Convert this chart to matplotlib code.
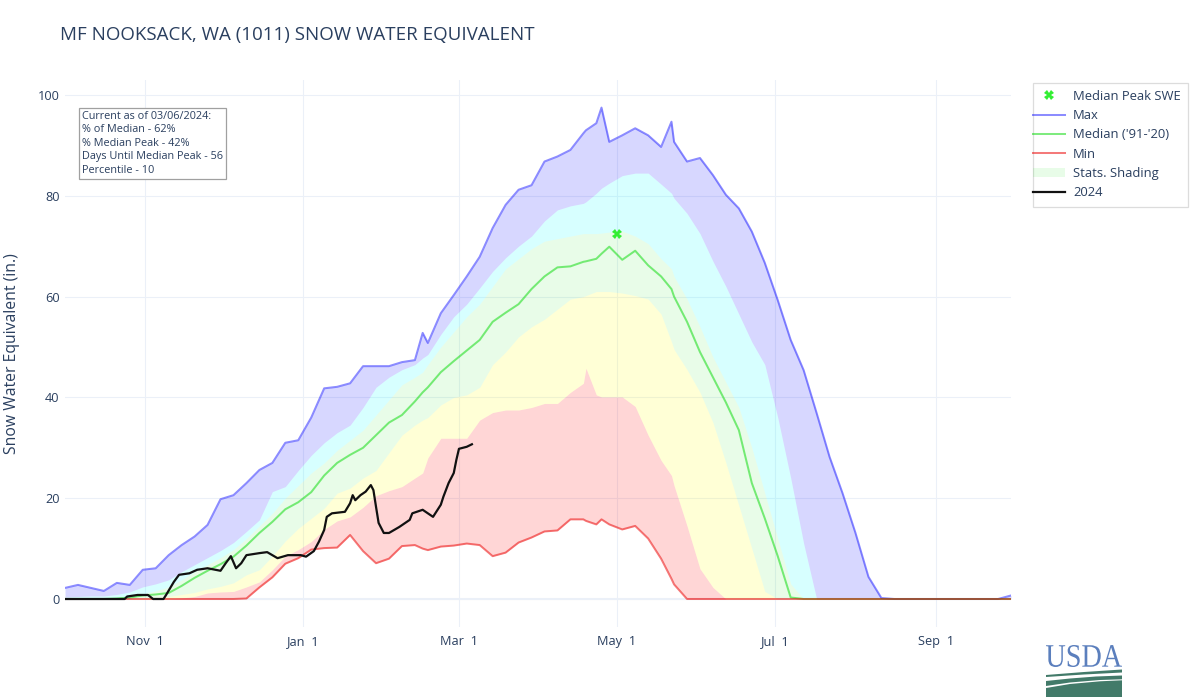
import numpy as np
import matplotlib
matplotlib.use('Agg')
import matplotlib.pyplot as plt
from matplotlib.lines import Line2D
from matplotlib.patches import Patch, Polygon, PathPatch, Rectangle
from matplotlib.textpath import TextPath
from matplotlib.font_manager import FontProperties
from matplotlib.transforms import Affine2D

plt.rcParams['font.family'] = ['Open Sans', 'DejaVu Sans']

# ---------------- data ----------------
START = np.datetime64('2023-10-01')

stat_days = [0, 5, 10, 15, 20, 25, 30, 35, 40, 45, 50, 55, 60, 65, 70, 75, 80, 85, 90, 95,
             100, 105, 110, 115, 120, 125, 130, 135, 138, 140, 145, 150, 155, 160, 165, 170,
             175, 180, 185, 190, 195, 200, 201, 205, 207, 210, 215, 220, 225, 230, 234, 235,
             240, 245, 250, 255, 260, 265, 270, 275, 280, 285, 290, 295, 300, 305, 310, 315,
             320, 325, 330, 335, 340, 345, 350, 355, 360, 365]

swe_max = [2.2, 2.8, 2.2, 1.6, 3.2, 2.8, 5.8, 6.1, 8.7, 10.7, 12.4, 14.7, 19.8, 20.6, 23.0, 25.6,
           27.0, 31.0, 31.5, 36.0, 41.8, 42.1, 42.8, 46.2, 46.2, 46.2, 47.0, 47.4, 52.8, 50.8,
           56.7, 60.3, 64.0, 67.9, 73.6, 78.2, 81.2, 82.1, 86.8, 87.8, 89.1, 92.4, 93.0, 94.4,
           97.5, 90.7, 92.0, 93.4, 92.0, 89.7, 94.7, 90.7, 86.8, 87.5, 84.1, 80.2, 77.5, 72.9,
           66.7, 59.3, 51.4, 45.4, 36.9, 28.2, 21.0, 13.1, 4.4, 0.2, 0.0, 0.0, 0.0, 0.0, 0.0,
           0.0, 0.0, 0.0, 0.0, 0.7]

swe_p90 = [0.4, 0.5, 0.6, 0.6, 0.9, 1.4, 2.4, 3.0, 3.8, 5.4, 6.8, 8.2, 9.6, 11.2, 13.4, 15.7,
           21.3, 22.3, 25.5, 28.5, 31.0, 33.0, 34.5, 38.0, 42.0, 44.0, 45.5, 46.5, 47.8, 48.5,
           52.5, 56.0, 58.5, 61.7, 65.0, 67.7, 70.0, 72.0, 75.0, 77.2, 78.0, 78.5, 78.8, 80.5,
           81.5, 82.5, 84.0, 84.5, 84.5, 82.3, 80.5, 79.5, 76.5, 72.5, 67.0, 62.0, 56.5, 51.0,
           46.5, 36.0, 24.0, 11.0, 0.0, 0.0, 0.0, 0.0, 0.0, 0.0, 0.0, 0.0, 0.0, 0.0, 0.0,
           0.0, 0.0, 0.0, 0.0, 0.0]

swe_p70 = [0.1, 0.1, 0.2, 0.2, 0.3, 0.5, 1.0, 1.6, 2.4, 3.8, 5.4, 6.8, 8.2, 9.8, 12.0, 14.5,
           17.0, 20.0, 22.5, 25.0, 27.0, 29.5, 31.5, 33.5, 36.5, 39.5, 42.5, 44.0, 45.0, 46.5,
           50.0, 53.0, 56.0, 58.5, 62.0, 65.5, 67.5, 69.5, 71.0, 71.5, 72.0, 72.5, 72.5, 72.5,
           72.6, 72.8, 73.0, 72.0, 70.5, 67.5, 65.5, 64.0, 59.5, 54.0, 48.0, 43.0, 38.0, 30.0,
           21.0, 12.0, 3.0, 0.0, 0.0, 0.0, 0.0, 0.0, 0.0, 0.0, 0.0, 0.0, 0.0, 0.0, 0.0,
           0.0, 0.0, 0.0, 0.0, 0.0]

swe_median = [0.0, 0.0, 0.0, 0.0, 0.1, 0.3, 0.7, 0.9, 1.2, 2.6, 4.2, 5.6, 6.9, 8.4, 10.6, 13.1,
              15.3, 17.8, 19.2, 21.2, 24.5, 27.0, 28.6, 30.0, 32.5, 35.0, 36.5, 39.2, 41.0, 42.0,
              45.0, 47.2, 49.3, 51.4, 55.0, 56.8, 58.5, 61.5, 64.0, 65.8, 66.0, 66.9, 67.0, 67.5,
              68.5, 69.9, 67.3, 69.1, 66.2, 64.0, 61.5, 60.0, 55.0, 49.0, 44.0, 39.0, 33.5, 23.0,
              16.0, 8.5, 0.3, 0.0, 0.0, 0.0, 0.0, 0.0, 0.0, 0.0, 0.0, 0.0, 0.0, 0.0, 0.0,
              0.0, 0.0, 0.0, 0.0, 0.0]

swe_p30 = [0.0, 0.0, 0.0, 0.0, 0.0, 0.0, 0.2, 0.3, 0.5, 0.9, 1.3, 2.0, 2.5, 3.2, 4.8, 5.8,
           8.5, 11.5, 14.0, 16.0, 18.0, 21.0, 22.0, 24.0, 25.5, 29.0, 32.5, 34.5, 35.5, 36.0,
           38.5, 40.0, 40.5, 42.0, 46.5, 49.0, 52.0, 54.0, 55.5, 57.5, 59.5, 60.0, 60.2, 61.0,
           61.0, 61.0, 60.7, 60.2, 59.5, 56.5, 51.0, 49.5, 45.5, 41.0, 35.0, 27.0, 18.5, 10.0,
           1.5, 0.0, 0.0, 0.0, 0.0, 0.0, 0.0, 0.0, 0.0, 0.0, 0.0, 0.0, 0.0, 0.0, 0.0,
           0.0, 0.0, 0.0, 0.0, 0.0]

swe_p10 = [0.0, 0.0, 0.0, 0.0, 0.0, 0.0, 0.0, 0.0, 0.0, 0.2, 0.5, 1.2, 1.4, 1.5, 2.4, 3.4,
           5.8, 8.5, 9.8, 11.4, 13.8, 15.5, 16.3, 18.2, 20.5, 21.5, 22.3, 24.0, 25.0, 28.0,
           31.9, 31.9, 31.9, 35.5, 37.0, 37.5, 37.5, 38.0, 38.8, 38.8, 41.0, 42.8, 45.8, 40.5,
           40.1, 40.1, 40.1, 38.2, 32.5, 27.5, 24.5, 22.5, 14.5, 6.0, 2.3, 0.0, 0.0, 0.0,
           0.0, 0.0, 0.0, 0.0, 0.0, 0.0, 0.0, 0.0, 0.0, 0.0, 0.0, 0.0, 0.0, 0.0, 0.0,
           0.0, 0.0, 0.0, 0.0, 0.0]

swe_min = [0.0, 0.0, 0.0, 0.0, 0.0, 0.0, 0.0, 0.0, 0.0, 0.0, 0.0, 0.0, 0.0, 0.0, 0.1, 2.3,
           4.3, 7.0, 8.1, 9.8, 10.1, 10.2, 12.7, 9.5, 7.1, 8.0, 10.5, 10.7, 10.0, 9.7,
           10.4, 10.6, 11.0, 10.7, 8.5, 9.2, 11.2, 12.2, 13.4, 13.6, 15.8, 15.8, 15.5, 14.8,
           15.8, 14.8, 13.8, 14.5, 12.0, 8.0, 4.0, 2.9, 0.0, 0.0, 0.0, 0.0, 0.0, 0.0,
           0.0, 0.0, 0.0, 0.0, 0.0, 0.0, 0.0, 0.0, 0.0, 0.0, 0.0, 0.0, 0.0, 0.0, 0.0,
           0.0, 0.0, 0.0, 0.0, 0.0]

wy2024_days = [0, 23, 24, 28, 32, 34, 38, 39, 42, 44, 48, 51, 55, 60, 62, 64, 66, 68, 70, 75,
               78, 82, 86, 91, 93, 96, 98, 100, 101, 103, 108, 110, 111, 112, 114, 116, 118,
               119, 120, 121, 123, 125, 129, 133, 134, 138, 140, 142, 145, 146, 148, 150, 151,
               152, 155, 157]
wy2024_swe = [0.0, 0.0, 0.5, 0.8, 0.8, 0.0, 0.0, 0.8, 3.4, 4.8, 5.1, 5.8, 6.1, 5.6, 7.1, 8.5,
              6.1, 7.1, 8.7, 9.1, 9.3, 8.1, 8.7, 8.7, 8.4, 9.5, 11.4, 13.7, 16.3, 17.0, 17.3,
              19.0, 20.6, 19.6, 20.6, 21.3, 22.6, 21.6, 18.3, 15.1, 13.1, 13.1, 14.3, 15.7,
              17.0, 17.7, 17.0, 16.3, 18.7, 20.3, 23.0, 25.0, 27.6, 29.8, 30.2, 30.7]

median_peak_day = 213          # May 1
median_peak_swe = 72.4

title = "MF NOOKSACK, WA (1011) SNOW WATER EQUIVALENT"
info_lines = ["Current as of 03/06/2024:", "% of Median - 62%", "% Median Peak - 42%",
              "Days Until Median Peak - 56", "Percentile - 10"]
tick_dates = ['2023-11-01', '2024-01-01', '2024-03-01', '2024-05-01', '2024-07-01', '2024-09-01']
tick_labels = ['Nov  1', 'Jan  1', 'Mar  1', 'May  1', 'Jul  1', 'Sep  1']
y_ticks = [0, 20, 40, 60, 80, 100]
legend_labels = ['Median Peak SWE', 'Max', "Median ('91-'20)", 'Min', 'Stats. Shading', '2024']

# ---------------- figure ----------------
FONT_C = '#2a3f5f'
GRID_C = '#ebf0f8'
W, H = 1200, 700
fig = plt.figure(figsize=(W / 100, H / 100), dpi=100)

L, T, R, B = 65, 80, 1011, 627
ax = fig.add_axes([L / W, 1 - B / H, (R - L) / W, (B - T) / H])

x_stat = START + np.array(stat_days).astype('timedelta64[D]')
x_2024 = START + np.array(wy2024_days).astype('timedelta64[D]')

c_lav = (0.0, 0.0, 1.0, 0.155)
c_cyan = (0.0, 1.0, 1.0, 0.155)
c_lgreen = (0.0, 0.9, 0.0, 0.09)
c_yel = (1.0, 1.0, 0.0, 0.16)
c_pink = (1.0, 0.0, 0.0, 0.16)

ax.fill_between(x_stat, swe_min, swe_p10, color=c_pink, lw=0, zorder=1)
ax.fill_between(x_stat, swe_p10, swe_p30, color=c_yel, lw=0, zorder=1)
ax.fill_between(x_stat, swe_p30, swe_p70, color=c_lgreen, lw=0, zorder=1)
ax.fill_between(x_stat, swe_p70, swe_p90, color=c_cyan, lw=0, zorder=1)
ax.fill_between(x_stat, swe_p90, swe_max, color=c_lav, lw=0, zorder=1)

c_max = (0.0, 0.0, 1.0, 0.45)
c_med = (0.0, 0.85, 0.0, 0.5)
c_min = (0.92, 0.0, 0.0, 0.52)
lw = 1.45
ax.plot(x_stat, swe_max, color=c_max, lw=lw, zorder=3)
ax.plot(x_stat, swe_median, color=c_med, lw=lw, zorder=3)
ax.plot(x_stat, swe_min, color=c_min, lw=lw, zorder=3)
ax.plot(x_2024, wy2024_swe, color='#111111', lw=1.6, zorder=4)
ax.plot([START + np.timedelta64(median_peak_day, 'D')], [median_peak_swe], linestyle='none',
        marker='X', markersize=7, color='#33ee33', markeredgewidth=0, zorder=5)

ax.set_xlim(START, START + np.timedelta64(365, 'D'))
ax.set_ylim((599 - B) / 5.04, (599 - T) / 5.04)
ax.set_xticks([np.datetime64(d) for d in tick_dates])
ax.set_xticklabels(tick_labels)
ax.set_yticks(y_ticks)
ax.set_yticklabels([str(v) for v in y_ticks])
ax.tick_params(axis='both', length=0, labelsize=9.2, labelcolor=FONT_C)
ax.tick_params(axis='x', pad=6)
ax.tick_params(axis='y', pad=4)
ax.grid(True, color=GRID_C, lw=0.75, zorder=0)
ax.set_axisbelow(True)
ax.axhline(0, color=GRID_C, lw=1.5, zorder=0.5)
for s in ax.spines.values():
    s.set_visible(False)

fig.text(60 / W, 1 - 35 / H, title, fontsize=13.5, color=FONT_C, ha='left', va='center')
fig.text(12 / W, 1 - 354 / H, 'Snow Water Equivalent (in.)', fontsize=11.3, color=FONT_C,
         rotation=90, ha='center', va='center')

# pixel overlay for legend frame, annotation box and logo
ov = fig.add_axes([0, 0, 1, 1])
ov.set_xlim(0, W)
ov.set_ylim(H, 0)
ov.axis('off')
ov.patch.set_visible(False)

# legend
handles = [
    Line2D([], [], linestyle='none', marker='X', markersize=7, color='#33ee33', markeredgewidth=0),
    Line2D([], [], color=c_max, lw=lw),
    Line2D([], [], color=c_med, lw=lw),
    Line2D([], [], color=c_min, lw=lw),
    Patch(facecolor=(0.0, 0.9, 0.0, 0.09), edgecolor='none'),
    Line2D([], [], color='#111111', lw=1.6),
]
leg = fig.legend(handles, legend_labels, loc='upper left',
                 bbox_to_anchor=(1033 / W, 1 - 89.5 / H), borderaxespad=0, borderpad=0,
                 fontsize=9.4, frameon=False,
                 handlelength=2.45, handletextpad=0.61, labelspacing=0.49,
                 handleheight=0.6)
for t in leg.get_texts():
    t.set_color(FONT_C)
ov.add_patch(Rectangle((1032.5, 82.5), 155, 124.5, fill=False, ec='#dcdcdc', lw=0.9))

ov.text(82, 111, '\n'.join(info_lines), fontsize=7.85, color=FONT_C, ha='left', va='top',
        linespacing=1.3,
        bbox=dict(boxstyle='square,pad=0.3', fc='white', ec='#a0a0a0', lw=0.9))

# USDA logo
tp = TextPath((0, 0), 'USDA', size=1, prop=FontProperties(family='Liberation Serif'))
ext = tp.get_extents()
sx = (1122 - 1046) / ext.width
sy = (667 - 645) / ext.height
tr = Affine2D().translate(-ext.x0, -ext.y0).scale(sx, -sy).translate(1046, 667)
ov.add_patch(PathPatch(tr.transform_path(tp), fc='#5b7fbd', ec='none'))
green = '#427a69'
ov.add_patch(Polygon([(1046, 675), (1084, 672), (1122, 669.5), (1122, 672.5),
                      (1084, 674.5), (1046, 677)], closed=True, fc=green, ec='none'))
ov.add_patch(Polygon([(1046, 681), (1070, 678.5), (1096, 676.5), (1122, 675.5), (1122, 697),
                      (1046, 697)], closed=True, fc=green, ec='none'))
ov.add_patch(Polygon([(1046, 686), (1070, 682.5), (1100, 680), (1122, 679.3), (1122, 680.3),
                      (1100, 681.3), (1070, 684), (1046, 688)], closed=True, fc='white',
                     ec='none'))

fig.savefig('out.png', dpi=100)
